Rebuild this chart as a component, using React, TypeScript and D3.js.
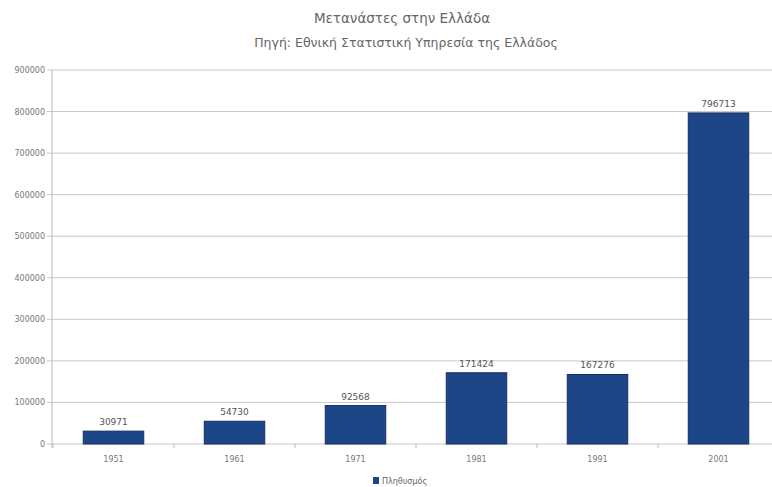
import { useEffect, useRef } from "react";
import * as d3 from "d3";

const years = ["1951", "1961", "1971", "1981", "1991", "2001"];
const immigrants = [30971, 54730, 92568, 171424, 167276, 796713];
const yTicks = [0, 100000, 200000, 300000, 400000, 500000, 600000, 700000, 800000, 900000];

const title = "Μετανάστες στην Ελλάδα";
const subtitle = "Πηγή: Εθνική Στατιστική Υπηρεσία της Ελλάδος";
const seriesName = "Πληθυσμός";

export default function App() {
  const svgRef = useRef<SVGSVGElement>(null);

  useEffect(() => {
    if (!svgRef.current) return;
    const svg = d3.select(svgRef.current);
    svg.selectAll("*").remove();

    const width = 772;
    const font = "'DejaVu Sans', 'Liberation Sans', sans-serif";

    const x = d3
      .scaleBand()
      .domain(years)
      .range([53, 779])
      .paddingInner(0.5)
      .paddingOuter(0.25);
    const y = d3.scaleLinear().domain([0, 900000]).range([444, 70]);

    // titles
    svg
      .append("text")
      .attr("x", 402)
      .attr("y", 23)
      .attr("text-anchor", "middle")
      .attr("font-family", font)
      .attr("font-size", 13.5)
      .attr("fill", "#666")
      .text(title);
    svg
      .append("text")
      .attr("x", 406)
      .attr("y", 47)
      .attr("text-anchor", "middle")
      .attr("font-family", font)
      .attr("font-size", 12.5)
      .attr("fill", "#666")
      .text(subtitle);

    // grid
    svg
      .append("g")
      .selectAll("line")
      .data(yTicks)
      .enter()
      .append("line")
      .attr("x1", 47)
      .attr("x2", width)
      .attr("y1", (d) => y(d))
      .attr("y2", (d) => y(d))
      .attr("stroke", "#c8c8c8")
      .attr("stroke-width", 1);

    // y labels
    svg
      .append("g")
      .selectAll("text")
      .data(yTicks)
      .enter()
      .append("text")
      .attr("x", 45)
      .attr("y", (d) => y(d) + 3)
      .attr("text-anchor", "end")
      .attr("font-family", font)
      .attr("font-size", 8)
      .attr("fill", "#777")
      .text((d) => String(d));

    // y axis line
    svg
      .append("line")
      .attr("x1", 52)
      .attr("x2", 52)
      .attr("y1", y(900000))
      .attr("y2", y(0) + 4)
      .attr("stroke", "#bbb");

    // x ticks between categories
    const step = x.step();
    const bounds = d3.range(years.length + 1).map((i) => 53 + i * step);
    svg
      .append("g")
      .selectAll("line")
      .data(bounds)
      .enter()
      .append("line")
      .attr("x1", (d) => d)
      .attr("x2", (d) => d)
      .attr("y1", y(0))
      .attr("y2", y(0) + 4)
      .attr("stroke", "#bbb");

    // bars
    svg
      .append("g")
      .selectAll("rect")
      .data(immigrants)
      .enter()
      .append("rect")
      .attr("x", (_, i) => x(years[i])!)
      .attr("y", (d) => y(d))
      .attr("width", x.bandwidth())
      .attr("height", (d) => y(0) - y(d))
      .attr("fill", "#1d4688")
      .attr("stroke", "#14305e")
      .attr("stroke-width", 1);

    // value labels
    svg
      .append("g")
      .selectAll("text")
      .data(immigrants)
      .enter()
      .append("text")
      .attr("x", (_, i) => x(years[i])! + x.bandwidth() / 2)
      .attr("y", (d) => y(d) - 6)
      .attr("text-anchor", "middle")
      .attr("font-family", font)
      .attr("font-size", 9)
      .attr("fill", "#555")
      .text((d) => String(d));

    // category labels
    svg
      .append("g")
      .selectAll("text")
      .data(years)
      .enter()
      .append("text")
      .attr("x", (d) => x(d)! + x.bandwidth() / 2)
      .attr("y", 462)
      .attr("text-anchor", "middle")
      .attr("font-family", font)
      .attr("font-size", 8)
      .attr("fill", "#777")
      .text((d) => d);

    // legend
    svg
      .append("rect")
      .attr("x", 373)
      .attr("y", 477)
      .attr("width", 6)
      .attr("height", 7)
      .attr("fill", "#1d4688");
    svg
      .append("text")
      .attr("x", 382)
      .attr("y", 484)
      .attr("font-family", font)
      .attr("font-size", 8)
      .attr("fill", "#666")
      .text(seriesName);
  }, []);

  return (
    <div style={{ position: "fixed", left: 0, top: 0, background: "#fff" }}>
      <svg ref={svgRef} width={772} height={487} style={{ display: "block" }} />
    </div>
  );
}
